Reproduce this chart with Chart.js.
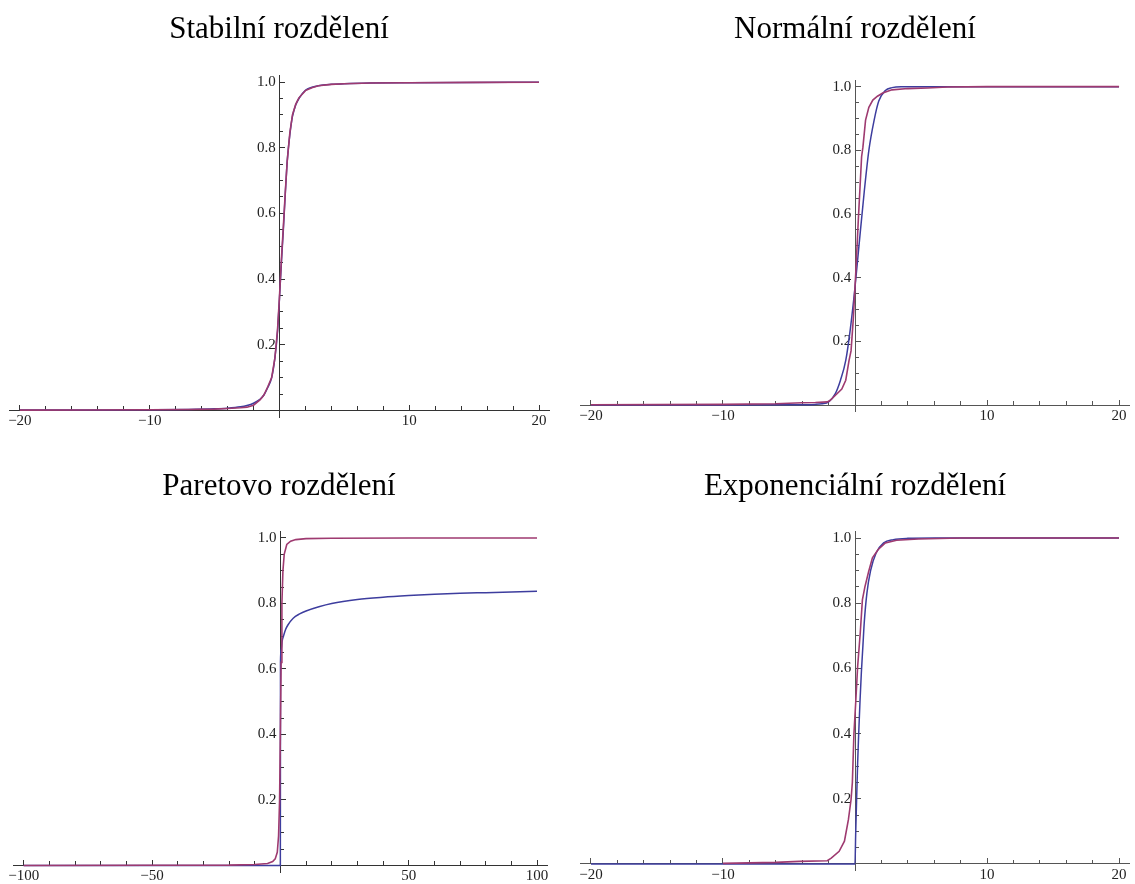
<!DOCTYPE html>
<html>
<head>
<meta charset="utf-8">
<script src="https://cdn.jsdelivr.net/npm/chart.js@4.4.1/dist/chart.umd.min.js"></script>
<style>
  html, body { margin: 0; padding: 0; background: #fff; }
  #page { position: relative; width: 1135px; height: 884px; }
  canvas { position: absolute; }
</style>
</head>
<body>
<div id="page">
  <canvas id="stable" width="567" height="442" style="left:0;top:0"></canvas>
  <canvas id="normal" width="568" height="442" style="left:567px;top:0"></canvas>
  <canvas id="pareto" width="567" height="442" style="left:0;top:442px"></canvas>
  <canvas id="expo" width="568" height="442" style="left:567px;top:442px"></canvas>
</div>
<script>
const stableX   = [-20, -15, -10, -7, -5, -4, -3, -2.5, -2, -1.5, -1.2, -0.9, -0.6, -0.35, -0.15, 0, 0.15, 0.3, 0.45, 0.6, 0.8, 1.0, 1.25, 1.5, 2, 2.5, 3, 4, 5, 7, 10, 15, 20];
const stableFit = [0.001, 0.0015, 0.002, 0.003, 0.005, 0.007, 0.011, 0.015, 0.022, 0.034, 0.047, 0.07, 0.1, 0.16, 0.24, 0.34, 0.45, 0.55, 0.66, 0.76, 0.84, 0.895, 0.93, 0.95, 0.975, 0.984, 0.989, 0.993, 0.995, 0.997, 0.998, 0.999, 0.9995];
const stableEmp = [0.001, 0.0015, 0.002, 0.003, 0.004, 0.006, 0.008, 0.01, 0.016, 0.032, 0.047, 0.072, 0.1, 0.16, 0.245, 0.345, 0.46, 0.56, 0.665, 0.76, 0.845, 0.9, 0.932, 0.952, 0.974, 0.983, 0.989, 0.993, 0.995, 0.997, 0.998, 0.999, 0.9995];

const normalFitX = [-20, -10, -5, -3, -2.5, -2, -1.5, -1.1, -0.7, -0.35, 0, 0.3, 0.7, 1.05, 1.45, 1.8, 2.3, 2.8, 3.5, 5, 10, 20];
const normalFit  = [0, 0, 0.0005, 0.002, 0.004, 0.01, 0.035, 0.078, 0.14, 0.24, 0.37, 0.5, 0.67, 0.8, 0.895, 0.955, 0.988, 0.997, 1.0, 1.0, 1.0, 1.0];
const normalEmpX = [-20, -10, -6, -4, -3, -2.1, -1.9, -1.5, -1.0, -0.7, -0.45, -0.3, -0.13, 0.05, 0.25, 0.5, 0.6, 0.8, 1.05, 1.35, 1.7, 2.1, 2.8, 4, 5.5, 7, 10, 20];
const normalEmp  = [0.001, 0.002, 0.004, 0.007, 0.008, 0.01, 0.014, 0.03, 0.05, 0.078, 0.14, 0.17, 0.27, 0.41, 0.58, 0.78, 0.81, 0.895, 0.935, 0.958, 0.97, 0.98, 0.99, 0.994, 0.996, 0.999, 1.0, 1.0];

const paretoFitX = [-100, 0, 0.05, 0.3, 0.7, 1.2, 2, 3, 5, 7.5, 10, 15, 20, 30, 40, 50, 60, 70, 80, 90, 100];
const paretoFit  = [0, 0, 0.62, 0.66, 0.685, 0.7, 0.72, 0.735, 0.755, 0.768, 0.777, 0.79, 0.8, 0.812, 0.819, 0.824, 0.828, 0.831, 0.833, 0.835, 0.837];
const paretoEmpX = [-100, -50, -20, -10, -5, -3, -2, -1.2, -0.7, -0.3, 0, 0.3, 0.6, 1, 1.5, 2.5, 4, 6, 10, 20, 50, 100];
const paretoEmp  = [0, 0.0005, 0.001, 0.003, 0.006, 0.012, 0.02, 0.04, 0.09, 0.2, 0.4, 0.62, 0.8, 0.9, 0.95, 0.98, 0.99, 0.995, 0.998, 0.999, 1.0, 1.0];

const expoFitX = [-20, 0, 0.05, 0.11, 0.2, 0.28, 0.38, 0.48, 0.6, 0.7, 0.9, 1.18, 1.6, 2.17, 2.9, 4, 6, 10, 20];
const expoFit  = [0, 0, 0.09, 0.18, 0.31, 0.4, 0.5, 0.586, 0.67, 0.74, 0.83, 0.9, 0.954, 0.985, 0.995, 0.999, 1.0, 1.0, 1.0];
const expoEmpX = [-10, -6, -4.2, -2.1, -1.8, -1.2, -0.8, -0.5, -0.3, -0.2, -0.08, 0.06, 0.2, 0.4, 0.56, 0.75, 1.04, 1.32, 1.74, 2.3, 3.15, 4.8, 8, 20];
const expoEmp  = [0.002, 0.005, 0.008, 0.01, 0.018, 0.039, 0.07, 0.136, 0.197, 0.25, 0.4, 0.5, 0.606, 0.71, 0.81, 0.85, 0.898, 0.939, 0.964, 0.985, 0.993, 0.997, 1.0, 1.0];

const titles = ['Stabilní rozdělení', 'Normální rozdělení', 'Paretovo rozdělení', 'Exponenciální rozdělení'];

const BLUE = 'rgb(61,61,158)';
const RED = 'rgb(158,58,112)';
const SERIF = "'Liberation Serif', 'Times New Roman', serif";

function pts(xs, ys) {
  return xs.map((x, i) => ({x: x, y: ys[i]}));
}

function num(v, digits) {
  if (Math.abs(v) < 1e-9) return '';
  return (v < 0 ? '\u2212' : '') + Math.abs(v).toFixed(digits);
}

function panel(id, title, fit, emp, o) {
  const tickFont = {family: SERIF, size: 15};
  const axis = o.axisColor;
  new Chart(document.getElementById(id), {
    type: 'line',
    data: {
      datasets: [
        {data: emp, borderColor: RED, borderWidth: 1.6, pointRadius: 0, tension: 0, order: 0},
        {data: fit, borderColor: BLUE, borderWidth: 1.5, pointRadius: 0, cubicInterpolationMode: 'monotone', order: 1}
      ]
    },
    options: {
      responsive: false,
      animation: false,
      layout: {padding: o.pad},
      plugins: {
        legend: {display: false},
        tooltip: {enabled: false},
        title: {
          display: true, text: title, color: '#000',
          font: {family: SERIF, size: 31, weight: 'normal'},
          padding: o.titlePad
        }
      },
      scales: {
        x: {
          type: 'linear', min: -o.xr, max: o.xr, position: {y: 0},
          border: {color: axis, width: 1},
          grid: {drawOnChartArea: false, tickLength: -6, tickColor: axis},
          ticks: {stepSize: o.xMajor, includeBounds: false, autoSkip: false, maxRotation: 0,
                  padding: 8, font: tickFont, color: '#222', callback: v => num(v, 0)}
        },
        xMinor: {
          type: 'linear', axis: 'x', min: -o.xr, max: o.xr, position: {y: 0},
          border: {display: false},
          grid: {drawOnChartArea: false, tickLength: -4, tickColor: axis},
          ticks: {stepSize: o.xMinor, includeBounds: false, autoSkip: false, display: false}
        },
        y: {
          type: 'linear', min: -0.02, max: 1.02, position: {x: 0},
          border: {color: axis, width: 1},
          grid: {drawOnChartArea: false, tickLength: -6, tickColor: axis},
          // labels sit flush on a centred axis, so a trailing space keeps them off the line
          ticks: {stepSize: 0.2, includeBounds: false, autoSkip: false,
                  font: tickFont, color: '#222', callback: v => num(v, 1) + ' '}
        },
        yMinor: {
          type: 'linear', axis: 'y', min: -0.02, max: 1.02, position: {x: 0},
          border: {display: false},
          grid: {drawOnChartArea: false, tickLength: -4, tickColor: axis},
          ticks: {stepSize: 0.05, includeBounds: false, autoSkip: false, display: false}
        }
      }
    }
  });
}

panel('stable', titles[0], pts(stableX, stableFit), pts(stableX, stableEmp), {
  axisColor: '#333', xr: 20.8, xMajor: 10, xMinor: 2,
  pad: {left: 8.6, right: 17.6, top: 0, bottom: 25},
  titlePad: {top: 11.4, bottom: 26.9}
});
panel('normal', titles[1], pts(normalFitX, normalFit), pts(normalEmpX, normalEmp), {
  axisColor: '#555', xr: 20.8, xMajor: 10, xMinor: 2,
  pad: {left: 13.4, right: 5.4, top: 0, bottom: 30.6},
  titlePad: {top: 11.4, bottom: 31.7}
});
panel('pareto', titles[2], pts(paretoFitX, paretoFit), pts(paretoEmpX, paretoEmp), {
  axisColor: '#333', xr: 104, xMajor: 50, xMinor: 10,
  pad: {left: 10.7, right: 19.7, top: 0, bottom: 11.4},
  titlePad: {top: 26.4, bottom: 25.8}
});
panel('expo', titles[3], pts(expoFitX, expoFit), pts(expoEmpX, expoEmp), {
  axisColor: '#555', xr: 20.8, xMajor: 10, xMinor: 2,
  pad: {left: 13.4, right: 5.4, top: 0, bottom: 13.5},
  titlePad: {top: 26.4, bottom: 25.9}
});
</script>
</body>
</html>
